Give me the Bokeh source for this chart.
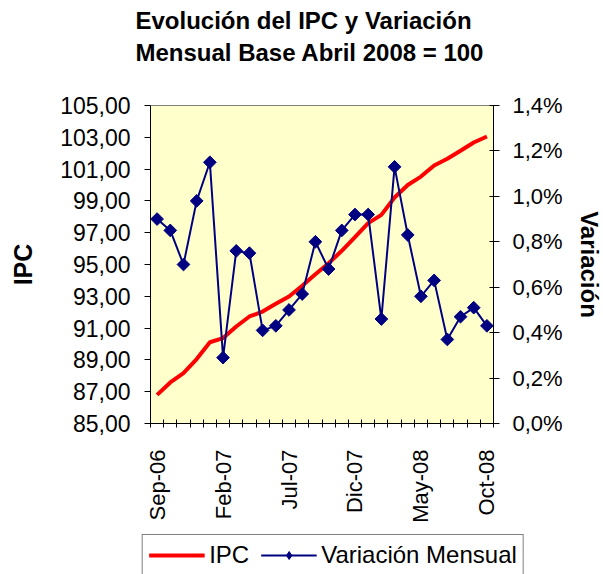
import math
from bokeh.plotting import figure
from bokeh.layouts import column
from bokeh.models import Range1d, LinearAxis, FixedTicker, Legend, LegendItem
from bokeh.embed import file_html
from bokeh.resources import INLINE

months = ["Sep-06", "Oct-06", "Nov-06", "Dic-06", "Ene-07", "Feb-07", "Mar-07", "Abr-07",
          "May-07", "Jun-07", "Jul-07", "Ago-07", "Sep-07", "Oct-07", "Nov-07", "Dic-07",
          "Ene-08", "Feb-08", "Mar-08", "Abr-08", "May-08", "Jun-08", "Jul-08", "Ago-08",
          "Sep-08", "Oct-08"]
ipc = [86.80, 87.58, 88.17, 89.05, 90.11, 90.37, 91.10, 91.73, 92.04, 92.53, 92.99, 93.66, 94.39,
       95.08, 95.86, 96.72, 97.60, 98.12, 99.21, 100.00, 100.53, 101.23, 101.65, 102.15, 102.67, 103.05]
variacion = [0.90, 0.85, 0.70, 0.98, 1.15, 0.29, 0.76, 0.75, 0.41, 0.43, 0.50, 0.57, 0.80,
             0.68, 0.85, 0.92, 0.92, 0.46, 1.13, 0.83, 0.56, 0.63, 0.37, 0.47, 0.51, 0.43]
ipc_ticks = [85, 87, 89, 91, 93, 95, 97, 99, 101, 103, 105]
ipc_tick_labels = ["85,00", "87,00", "89,00", "91,00", "93,00", "95,00", "97,00", "99,00",
                   "101,00", "103,00", "105,00"]
var_ticks = [0.0, 0.2, 0.4, 0.6, 0.8, 1.0, 1.2, 1.4]
var_tick_labels = ["0,0%", "0,2%", "0,4%", "0,6%", "0,8%", "1,0%", "1,2%", "1,4%"]
x_label_idx = [0, 5, 10, 15, 20, 25]
title_text = "Evolución del IPC y Variación\nMensual   Base Abril 2008 = 100"
legend_labels = ["IPC", "Variación Mensual"]

FONT = "Liberation Sans"
IPC_COLOR = "#FF0000"
VAR_COLOR = "#000080"
x = list(range(len(months)))

p = figure(frame_width=343, frame_height=318, x_range=Range1d(-0.5, len(months) - 0.5),
           y_range=Range1d(85, 105), output_backend="svg", toolbar_location=None,
           min_border_left=150, min_border_right=110, min_border_top=104, min_border_bottom=105,
           background_fill_color="#FFFFCC", border_fill_color="white",
           outline_line_color="#808080", outline_line_width=1)
p.xgrid.visible = False
p.ygrid.visible = False
p.extra_y_ranges = {"var": Range1d(0, 1.4)}

xa = p.xaxis[0]
ya = p.yaxis[0]

# two-line title
p.title.text = title_text
p.title.text_font = FONT
p.title.text_font_size = "24px"
p.title.text_font_style = "bold"
p.title.text_color = "black"
p.title.text_line_height = 1.2
p.title.align = "left"
p.title.offset = -15

# invisible spacer between title and frame (one unlabeled, uncoloured tick)
spacer = LinearAxis(ticker=FixedTicker(ticks=[12.5]), major_label_overrides={12.5: ""},
                    major_tick_out=34, major_tick_in=0,
                    major_label_standoff=0, axis_label_standoff=0,
                    axis_line_color=None, major_tick_line_color=None,
                    minor_tick_line_color=None, minor_tick_out=0, minor_tick_in=0)
p.add_layout(spacer, "above")

# left axis
ya.ticker = FixedTicker(ticks=ipc_ticks)
ya.major_label_overrides = dict(zip(ipc_ticks, ipc_tick_labels))
ya.axis_label = "IPC"
ya.axis_label_text_font = FONT
ya.axis_label_text_font_size = "25px"
ya.axis_label_text_font_style = "bold"
ya.axis_label_text_color = "black"
ya.axis_label_standoff = 20
ya.major_label_text_font = FONT
ya.major_label_text_font_size = "23px"
ya.major_label_text_color = "black"
ya.major_tick_in = 0
ya.major_tick_out = 6
ya.major_label_standoff = 14
ya.minor_tick_out = 0
ya.minor_tick_in = 0
ya.axis_line_color = "black"

# right axis
ra = LinearAxis(y_range_name="var", ticker=FixedTicker(ticks=var_ticks),
                major_label_overrides=dict(zip(var_ticks, var_tick_labels)),
                axis_label="Variación", axis_label_text_font=FONT,
                axis_label_text_font_size="24px", axis_label_text_font_style="bold",
                axis_label_text_color="black",
                axis_label_standoff=10,
                major_label_text_font=FONT, major_label_text_font_size="22px",
                major_label_text_color="black",
                major_tick_in=4, major_tick_out=6, major_label_standoff=13,
                minor_tick_in=0, minor_tick_out=0, axis_line_color="black")
p.add_layout(ra, "right")

# x axis
xa.ticker = FixedTicker(ticks=x_label_idx, minor_ticks=[i - 0.5 for i in range(len(months) + 1)])
xa.major_label_overrides = {i: months[i] for i in x_label_idx}
xa.major_label_orientation = math.pi / 2
xa.major_label_text_font = FONT
xa.major_label_text_font_size = "22px"
xa.major_label_text_color = "black"
xa.major_tick_in = 0
xa.major_tick_out = 0
xa.minor_tick_in = 4
xa.minor_tick_out = 4
xa.major_label_standoff = 22
xa.axis_label_standoff = 0
xa.axis_line_color = "black"

# series
p.line(x, ipc, line_color=IPC_COLOR, line_width=4)
p.line(x, variacion, y_range_name="var", line_color=VAR_COLOR, line_width=2)
p.scatter(x, variacion, y_range_name="var", marker="square", angle=math.pi / 4,
          size=9, fill_color=VAR_COLOR, line_color=VAR_COLOR)

# legend strip below the chart (its own series are out of view; only the legend shows)
pl = figure(width=603, height=50, x_range=Range1d(0, 1), y_range=Range1d(200, 201),
            output_backend="svg", toolbar_location=None,
            x_axis_location=None, y_axis_location=None,
            min_border_left=62, min_border_right=0, min_border_top=0, min_border_bottom=0,
            outline_line_color=None, background_fill_color="white", border_fill_color="white")
pl.grid.visible = False

aligned = True
try:
    pl.frame_align = False
    p.frame_align = False
    aligned = False
except Exception:
    aligned = True

l_ipc = pl.line(x, ipc, line_color=IPC_COLOR, line_width=4)
l_var = pl.line(x, variacion, line_color=VAR_COLOR, line_width=2)
l_pts = pl.scatter(x, variacion, marker="diamond", size=12, fill_color=VAR_COLOR,
                   line_color=VAR_COLOR)

if aligned:
    leg_font, glyph_w, leg_spacing = "20px", 46, 8
else:
    leg_font, glyph_w, leg_spacing = "24px", 56, 11

legend = Legend(items=[LegendItem(label=legend_labels[0], renderers=[l_ipc]),
                       LegendItem(label=legend_labels[1], renderers=[l_var, l_pts])],
                orientation="horizontal", location="top_center",
                border_line_color="black", border_line_width=1,
                background_fill_color="white", background_fill_alpha=1,
                label_text_font=FONT, label_text_font_size=leg_font,
                label_text_color="black",
                glyph_width=glyph_w, glyph_height=20, spacing=leg_spacing, padding=6, margin=6,
                label_standoff=5)
pl.add_layout(legend)

layout = column(p, pl, spacing=0)
open("out.html", "w").write(file_html(layout, INLINE))
